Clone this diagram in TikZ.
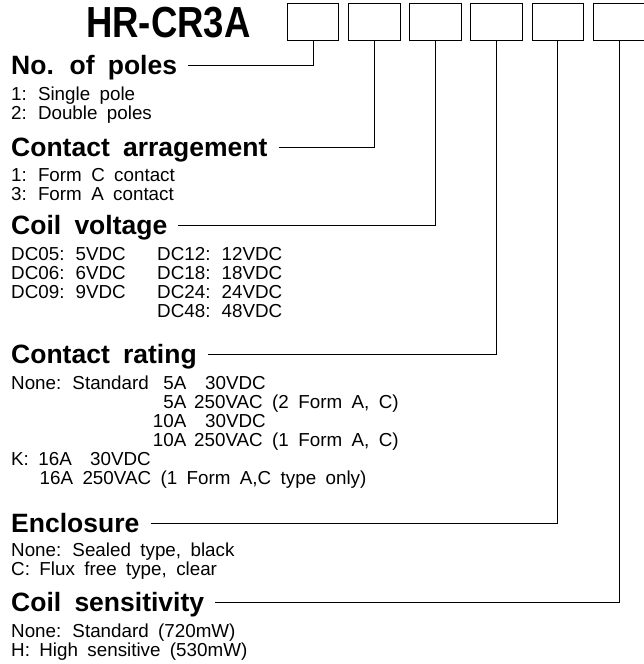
\documentclass[tikz,border=0pt]{standalone}
\usepackage{fontspec}
\setmainfont{Liberation Sans}[WordSpace=1.8]
\newfontfamily\titlefont{Liberation Sans}[FakeStretch=0.84]
\begin{document}
\begin{tikzpicture}[x=1pt,y=-1pt,
	slot/.style={draw,line width=0.9pt,minimum width=51.5pt,minimum height=37.2pt,inner sep=0pt},
	head/.style={anchor=base west,inner sep=0pt,text height=21.2pt,text depth=3.2pt,font=\bfseries\fontsize{26.5}{30}\selectfont},
	item/.style={anchor=base west,inner sep=0pt,font=\fontsize{18.8}{20}\selectfont},
	amp/.style={item,anchor=base east},
	lead/.style={line width=0.9pt,shorten <=11pt}]
	\useasboundingbox (0,0) rectangle (644,664);
	% part number and the six code boxes
	\node[anchor=base west,inner sep=0pt,font=\titlefont\bfseries\fontsize{43.5}{48}\selectfont] (title) at (86,37) {HR-CR3A};
	\foreach \i in {1,...,6}
		\node[slot] (b\i) at ({313.05+61.2*(\i-1)},22.1) {};
	% No. of poles
	\node[head] (poles) at (11,74) {No. of poles};
	\node[item] (p1) at (11,100) {1: Single pole};
	\node[item] (p2) at (11,119) {2: Double poles};
	% Contact arragement
	\node[head] (arr) at (11,156) {Contact arragement};
	\node[item] (a1) at (11,181.5) {1: Form C contact};
	\node[item] (a3) at (11,200.5) {3: Form A contact};
	% Coil voltage
	\node[head] (coil) at (11,234) {Coil voltage};
	\node[item] (v05) at (11,260.5) {DC05: 5VDC};
	\node[item] (v06) at (11,279.5) {DC06: 6VDC};
	\node[item] (v09) at (11,298.5) {DC09: 9VDC};
	\node[item] (v12) at (157,260.5) {DC12: 12VDC};
	\node[item] (v18) at (157,279.5) {DC18: 18VDC};
	\node[item] (v24) at (157,298.5) {DC24: 24VDC};
	\node[item] (v48) at (157,317.5) {DC48: 48VDC};
	% Contact rating
	\node[head] (rating) at (11,363.3) {Contact rating};
	\node[item] (r1) at (11,389) {None: Standard};
	\node[amp] (r1a) at (186.5,389) {5A};
	\node[item] (r1v) at (205,389) {30VDC};
	\node[amp] (r2a) at (186.5,408) {5A};
	\node[item] (r2v) at (194,408) {250VAC (2 Form A, C)};
	\node[amp] (r3a) at (186.5,427) {10A};
	\node[item] (r3v) at (205,427) {30VDC};
	\node[amp] (r4a) at (186.5,446) {10A};
	\node[item] (r4v) at (194,446) {250VAC (1 Form A, C)};
	\node[item] (k1) at (11,465) {K: 16A};
	\node[item] (k1v) at (90,465) {30VDC};
	\node[item] (k2) at (39.5,484) {16A 250VAC (1 Form A,C type only)};
	% Enclosure
	\node[head] (encl) at (11,532) {Enclosure};
	\node[item] (e1) at (11,556) {None: Sealed type, black};
	\node[item] (e2) at (11,575) {C: Flux free type, clear};
	% Coil sensitivity
	\node[head] (sens) at (11,611) {Coil sensitivity};
	\node[item] (s1) at (11,637) {None: Standard (720mW)};
	\node[item] (s2) at (11,656) {H: High sensitive (530mW)};
	% leaders up to the boxes
	\draw[lead] (poles.east) -| (b1.south);
	\draw[lead] (arr.east) -| (b2.south);
	\draw[lead] (coil.east) -| (b3.south);
	\draw[lead] (rating.east) -| (b4.south);
	\draw[lead] (encl.east) -| (b5.south);
	\draw[lead] (sens.east) -| (b6.south);
\end{tikzpicture}
\end{document}
